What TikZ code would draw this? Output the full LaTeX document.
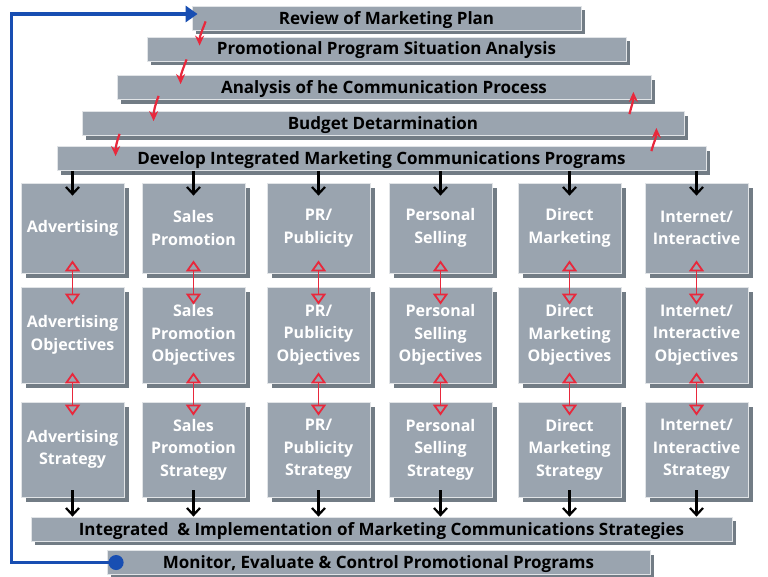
\documentclass[tikz,border=0pt]{standalone}
\usepackage{fontspec}
\setmainfont{Open Sans}
\usetikzlibrary{arrows.meta,calc,shadows}
\definecolor{boxgray}{RGB}{154,164,175}
\definecolor{shadegray}{RGB}{114,124,133}
\definecolor{loopblue}{RGB}{24,78,178}
\definecolor{linkred}{RGB}{232,40,60}

\begin{document}
\begin{tikzpicture}[x=1pt, y=-1pt,
    stage/.style={fill=boxgray, draw=white!70!boxgray, line width=0.8pt, inner sep=0pt,
        font=\fontsize{17}{20}\selectfont\bfseries, minimum height=24pt, text depth=1pt,
        drop shadow={shadow xshift=4pt, shadow yshift=-4pt, fill=shadegray, opacity=1}},
    tool/.style={fill=boxgray, draw=white!70!boxgray, line width=0.8pt, inner sep=0pt,
        text=white, align=center, font=\fontsize{16}{22.5}\selectfont\bfseries,
        minimum width=103pt,
        drop shadow={shadow xshift=5pt, shadow yshift=-5pt, fill=shadegray, opacity=1}},
    tool1/.style={tool, minimum height=90pt},
    tool2/.style={tool, minimum height=96pt},
    tool3/.style={tool, minimum height=95pt},
    down/.style={-{Straight Barb[length=7pt, width=13pt]}, line width=2.2pt},
    link/.style={{Triangle[open, length=11pt, width=15pt]}-{Triangle[open, length=11pt, width=15pt]},
        linkred, line width=1.8pt},
    flow/.style={-{Stealth[length=10pt, width=9pt]}, linkred, line width=2.2pt},
    back/.style={{Circle[length=15pt]}-{Triangle[length=12pt, width=16pt]}, loopblue, line width=3.2pt}
    ]
    \useasboundingbox (0,0) rectangle (768,576);

    \node[stage, minimum width=389pt] (review)    at (386.5,18)  {Review of Marketing Plan};
    \node[stage, minimum width=479pt] (situation) at (386.5,49)  {Promotional Program Situation Analysis};
    \node[stage, minimum width=534pt] (process)   at (384,87.5)  {Analysis of he Communication Process};
    \node[stage, minimum width=602pt] (budget)    at (383,123.5) {Budget Detarmination};
    \node[stage, minimum width=649pt] (develop)   at (381.5,158.5) {Develop Integrated Marketing Communications Programs};

    \node[tool1] (adv)    at (72.5,228)  {Advertising};
    \node[tool1] (sales)  at (193.5,228) {Sales\\Promotion};
    \node[tool1] (pr)     at (318.5,228) {PR/\\Publicity};
    \node[tool1] (pers)   at (440.5,228) {Personal\\Selling};
    \node[tool1] (direct) at (569.5,228) {Direct\\Marketing};
    \node[tool1] (web)    at (696.5,228) {Internet/\\Interactive};

    \node[tool2] (advobj)    at (72.5,335)  {Advertising\\Objectives};
    \node[tool2] (salesobj)  at (193.5,335) {Sales\\Promotion\\Objectives};
    \node[tool2] (probj)     at (318.5,335) {PR/\\Publicity\\Objectives};
    \node[tool2] (persobj)   at (440.5,335) {Personal\\Selling\\Objectives};
    \node[tool2] (directobj) at (569.5,335) {Direct\\Marketing\\Objectives};
    \node[tool2] (webobj)    at (696.5,335) {Internet/\\Interactive\\Objectives};

    \node[tool3] (advstr)    at (72.5,449.5)  {Advertising\\Strategy};
    \node[tool3] (salesstr)  at (193.5,449.5) {Sales\\Promotion\\Strategy};
    \node[tool3] (prstr)     at (318.5,449.5) {PR/\\Publicity\\Strategy};
    \node[tool3] (persstr)   at (440.5,449.5) {Personal\\Selling\\Strategy};
    \node[tool3] (directstr) at (569.5,449.5) {Direct\\Marketing\\Strategy};
    \node[tool3] (webstr)    at (696.5,449.5) {Internet/\\Interactive\\Strategy};

    \node[stage, minimum width=701pt] (integrated) at (381.5,529)   {Integrated~ \& Implementation of Marketing Communications Strategies};
    \node[stage, minimum width=543pt] (monitor)    at (378.5,562.5) {Monitor, Evaluate \& Control Promotional Programs};

    \draw[flow] ($(review.south west)+(14,-9)$)    to[out=-110, in=90] ($(situation.north west)+(53,9)$);
    \draw[flow] ($(situation.south west)+(40,-2)$) to[out=-110, in=90] ($(process.north west)+(64,9)$);
    \draw[flow] ($(process.south west)+(42,-4)$)   to[out=-110, in=90] ($(budget.north west)+(72,10)$);
    \draw[flow] ($(budget.south west)+(38,-2)$)    to[out=-110, in=90] ($(develop.north west)+(59,10)$);
    \draw[flow] ($(budget.north east)+(-55,3)$)    to[out=75, in=-90]  ($(process.south east)+(-18,-8)$);
    \draw[flow] ($(develop.north east)+(-55,5)$)   to[out=75, in=-90]  ($(budget.south east)+(-28,-8)$);

    \draw[down] (develop.south -| adv)    -- ([yshift=-13pt]adv.north);
    \draw[down] (develop.south -| sales)  -- ([yshift=-13pt]sales.north);
    \draw[down] (develop.south -| pr)     -- ([yshift=-13pt]pr.north);
    \draw[down] (develop.south -| pers)   -- ([yshift=-13pt]pers.north);
    \draw[down] (develop.south -| direct) -- ([yshift=-13pt]direct.north);
    \draw[down] (develop.south -| web)    -- ([yshift=-13pt]web.north);

    \draw[link] ([yshift=13pt]adv.south)    -- ([yshift=-18pt]advobj.north);
    \draw[link] ([yshift=13pt]sales.south)  -- ([yshift=-18pt]salesobj.north);
    \draw[link] ([yshift=13pt]pr.south)     -- ([yshift=-18pt]probj.north);
    \draw[link] ([yshift=13pt]pers.south)   -- ([yshift=-18pt]persobj.north);
    \draw[link] ([yshift=13pt]direct.south) -- ([yshift=-18pt]directobj.north);
    \draw[link] ([yshift=13pt]web.south)    -- ([yshift=-18pt]webobj.north);

    \draw[link] ([yshift=11pt]advobj.south)    -- ([yshift=-14pt]advstr.north);
    \draw[link] ([yshift=11pt]salesobj.south)  -- ([yshift=-14pt]salesstr.north);
    \draw[link] ([yshift=11pt]probj.south)     -- ([yshift=-14pt]prstr.north);
    \draw[link] ([yshift=11pt]persobj.south)   -- ([yshift=-14pt]persstr.north);
    \draw[link] ([yshift=11pt]directobj.south) -- ([yshift=-14pt]directstr.north);
    \draw[link] ([yshift=11pt]webobj.south)    -- ([yshift=-14pt]webstr.north);

    \draw[down] ([yshift=7pt]advstr.south)    -- (advstr.south |- integrated.north);
    \draw[down] ([yshift=7pt]salesstr.south)  -- (salesstr.south |- integrated.north);
    \draw[down] ([yshift=7pt]prstr.south)     -- (prstr.south |- integrated.north);
    \draw[down] ([yshift=7pt]persstr.south)   -- (persstr.south |- integrated.north);
    \draw[down] ([yshift=7pt]directstr.south) -- (directstr.south |- integrated.north);
    \draw[down] ([yshift=7pt]webstr.south)    -- (webstr.south |- integrated.north);

    \draw[back] ([xshift=17pt]monitor.west) -- ++(-112,0) |- ([xshift=6pt, yshift=4pt]review.west);
\end{tikzpicture}
\end{document}
